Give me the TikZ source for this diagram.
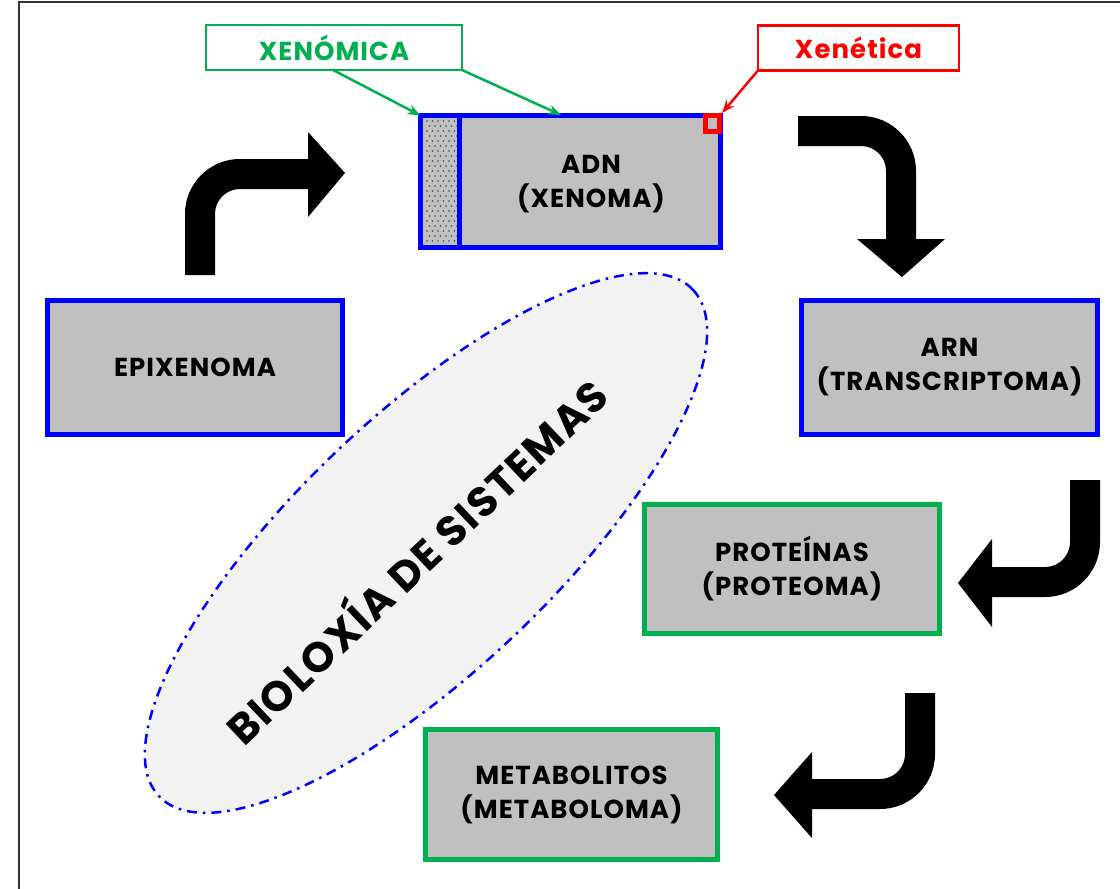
\documentclass[tikz,border=0pt]{standalone}
\usepackage{fontspec}
\setmainfont{Poppins}[LetterSpace=4]
\usetikzlibrary{shapes.geometric,arrows.meta}
\definecolor{bblue}{RGB}{0,0,255}
\definecolor{bgreen}{RGB}{0,176,80}
\definecolor{bred}{RGB}{255,0,0}
\definecolor{bgray}{RGB}{192,192,192}
\definecolor{egray}{RGB}{242,242,242}
\begin{document}
\begin{tikzpicture}[x=1pt,y=-1pt,
 boxfont/.style={font=\fontsize{26}{34}\selectfont\bfseries},
 box/.style={draw, line width=5pt, fill=bgray, inner sep=0pt, outer sep=0pt, align=center,
   boxfont, text=black},
 bluebox/.style={box, draw=bblue},
 greenbox/.style={box, draw=bgreen},
 tag/.style={draw, line width=2.5pt, fill=white, inner sep=0pt, outer sep=0pt,
   font=\fontsize{26}{28}\selectfont\bfseries, minimum height=45pt},
 pointer/.style={line width=2.5pt, -{Stealth[length=13pt,width=10pt]}},
 bigarrow/.style={line width=30pt, draw=black, rounded corners=40pt},
 head/.style={fill=black}
]
\useasboundingbox (0,0) rectangle (1120,889);
\draw[line width=2.5pt, black!80] (19,889) -- (19,2) -- (1120,2);

% systems ellipse
\node[ellipse, draw=bblue, fill=egray, line width=2.5pt,
  dash pattern=on 10pt off 6pt on 2.5pt off 6pt,
  minimum width=736pt, minimum height=256pt, inner sep=0pt, rotate=43.5] (sys) at (426,543) {};
\node[rotate=43.5, font=\fontsize{42}{42}\selectfont\bfseries] (systxt) at (414,559) {BIOLOXÍA DE SISTEMAS};

% boxes
\node[bluebox, minimum width=300pt, minimum height=132pt] (adn) at (570.5,181.5) {};
\fill[bgray] (423,118) rectangle (457,245);
\foreach \r in {0,...,24}{
  \foreach \c in {0,...,5}{
    \fill[black!70] ({427+5.5*\c+mod(\r,2)*2.5},{121+5*\r}) circle (0.8pt);
  }
}
\draw[bblue, line width=5pt] (459.5,113) -- (459.5,250);
\node[boxfont, align=center] (adntxt) at (591,184) {ADN\\(XENOMA)};
\node[draw=bred, fill=bgray, line width=5pt, minimum width=14pt, minimum height=16pt, inner sep=0pt] (gene) at (712.5,123.5) {};

\node[bluebox, minimum width=295pt, minimum height=134pt] (epi) at (195,367.5) {EPIXENOMA};
\node[bluebox, minimum width=296pt, minimum height=134pt] (arn) at (949.5,367.5) {ARN\\(TRANSCRIPTOMA)};
\node[greenbox, minimum width=295pt, minimum height=129pt] (prot) at (792,569) {PROTEÍNAS\\(PROTEOMA)};
\node[greenbox, minimum width=292pt, minimum height=130pt] (meta) at (571.5,794.5) {METABOLITOS\\(METABOLOMA)};

% tags
\node[tag, draw=bgreen, text=bgreen, minimum width=256pt] (xg) at (334,47.5) {XENÓMICA};
\node[tag, draw=bred, text=bred, minimum width=201pt] (xr) at (858.5,48) {Xenética};
\coordinate (g1s) at (333,70);
\coordinate (g2e) at (561,115);
\draw[pointer, bgreen] (g1s) -- (adn.north west);
\draw[pointer, bgreen] (xg.south east) -- (g2e);
\draw[pointer, bred] (xr.south west) -- (gene.north east);

% big bent arrows
\coordinate (a1s) at (200,275); \coordinate (a1c) at (200,174); \coordinate (a1e) at (309,174);
\draw[bigarrow] (a1s) -- (a1c) -- (a1e);
\fill[head] (308,132) -- (345,173) -- (308,217) -- cycle;

\coordinate (a2s) at (798,131); \coordinate (a2c) at (901,131); \coordinate (a2e) at (901,240);
\draw[bigarrow] (a2s) -- (a2c) -- (a2e);
\fill[head] (857,239) -- (902,277) -- (945,239) -- cycle;

\coordinate (a3s) at (1085,480); \coordinate (a3c) at (1085,582); \coordinate (a3e) at (991,582);
\draw[bigarrow] (a3s) -- (a3c) -- (a3e);
\fill[head] (992,539) -- (958,583) -- (992,627) -- cycle;

\coordinate (a4s) at (920,693); \coordinate (a4c) at (920,794); \coordinate (a4e) at (811,794);
\draw[bigarrow] (a4s) -- (a4c) -- (a4e);
\fill[head] (812,752) -- (774,795) -- (812,838) -- cycle;
\end{tikzpicture}
\end{document}
